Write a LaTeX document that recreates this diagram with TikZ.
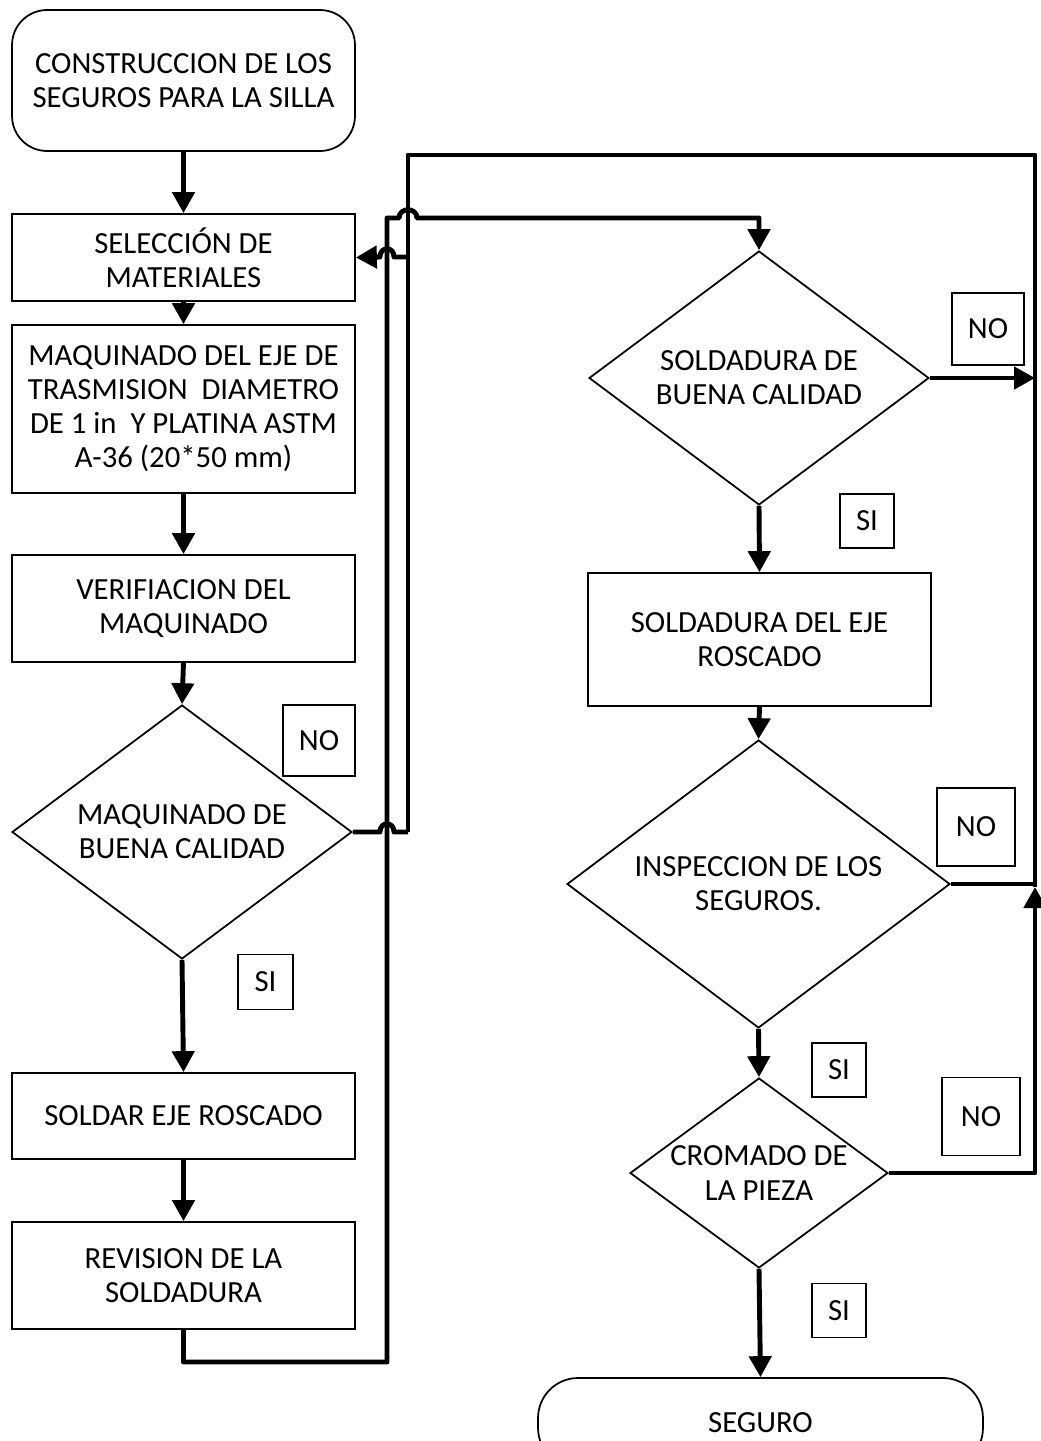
\documentclass[tikz,border=0pt]{standalone}
\usepackage{fontspec}
\setmainfont{Carlito}
\usetikzlibrary{shapes.geometric,arrows.meta}

\begin{document}
\begin{tikzpicture}[x=0.02cm,y=-0.02cm,
    font=\fontsize{17.5}{19.4}\selectfont,
    caja/.style={draw=black,line width=1pt,align=center,inner sep=0pt,minimum width=6.86cm},
    rombo/.style={shape=diamond,draw=black,line width=1pt,align=center,inner sep=0pt,aspect=1.34},
    etiq/.style={draw=black,line width=1pt,inner sep=0pt},
    linea/.style={line width=2.8pt,line join=round},
    flecha/.style={linea,-{Triangle[length=0.42cm,width=0.44cm]}}]
    \useasboundingbox (0,0) rectangle (1041,1441);

    % columna izquierda
    \node[caja,rounded corners=0.7cm,minimum height=2.82cm] (inicio) at (183.5,80.5) {CONSTRUCCION DE LOS\\SEGUROS PARA LA SILLA};
    \node[caja,minimum height=1.74cm] (seleccion) at (183.5,257.5) {SELECCIÓN DE\\MATERIALES};
    \node[caja,minimum height=3.36cm] (maquinado) at (183.5,409) {MAQUINADO DEL EJE DE\\TRASMISION\ \ DIAMETRO\\DE 1 in\ \ Y PLATINA ASTM\\A-36 (20*50 mm)};
    \node[caja,minimum height=2.14cm] (verificacion) at (183.5,608.5) {VERIFIACION DEL\\MAQUINADO};
    \node[rombo,minimum width=6.8cm,minimum height=5.08cm] (maqcal) at (182,832) {MAQUINADO DE\\BUENA CALIDAD};
    \node[caja,minimum height=1.72cm] (soldar) at (183.5,1116) {SOLDAR EJE ROSCADO};
    \node[caja,minimum height=2.14cm] (revision) at (183.5,1275.5) {REVISION DE LA\\SOLDADURA};

    % columna derecha
    \node[rombo,minimum width=6.8cm,minimum height=5.08cm] (soldcal) at (759,378) {SOLDADURA DE\\BUENA CALIDAD};
    \node[caja,minimum height=2.66cm] (soldeje) at (759.5,639.5) {SOLDADURA DEL EJE\\ROSCADO};
    \node[rombo,minimum width=7.66cm,minimum height=5.76cm] (inspeccion) at (758.5,884) {INSPECCION DE LOS\\SEGUROS.};
    \node[rombo,minimum width=5.16cm,minimum height=3.8cm] (cromado) at (759,1173) {CROMADO DE\\LA PIEZA};
    \node[caja,rounded corners=0.8cm,minimum width=8.9cm,minimum height=1.8cm] (seguro) at (760.5,1423) {SEGURO};

    % etiquetas SI / NO
    \node[etiq,minimum width=1.44cm,minimum height=1.42cm] (no1) at (319,740.5) {NO};
    \node[etiq,minimum size=1.1cm] (si1) at (265.5,982) {SI};
    \node[etiq,minimum size=1.44cm] (no2) at (988,329) {NO};
    \node[etiq,minimum size=1.08cm] (si2) at (867,521) {SI};
    \node[etiq,minimum size=1.56cm] (no3) at (976,827) {NO};
    \node[etiq,minimum size=1.08cm] (si3) at (839,1070) {SI};
    \node[etiq,minimum size=1.56cm] (no4) at (981,1116.5) {NO};
    \node[etiq,minimum size=1.08cm] (si4) at (839,1310.5) {SI};

    \coordinate (esqder) at (1035,155);
    \coordinate (esqizq) at (408,155);
    \coordinate (subida) at (387,1362);

    % flujo principal
    \draw[flecha] (inicio.south) -- (seleccion.north);
    \draw[flecha] (seleccion.south) -- (maquinado.north);
    \draw[flecha] (maquinado.south) -- (verificacion.north);
    \draw[flecha] (verificacion.south) -- (maqcal.north);
    \draw[flecha] (maqcal.south) -- (soldar.north);
    \draw[flecha] (soldar.south) -- (revision.north);
    \draw[flecha] (revision.south) |- (subida) -- (387,218) -- (399,218)
        .. controls (399,207) and (417,207) .. (417,218) -| (soldcal.north);
    \draw[flecha] (soldcal.south) -- (soldeje.north);
    \draw[flecha] (soldeje.south) -- (inspeccion.north);
    \draw[flecha] (inspeccion.south) -- (cromado.north);
    \draw[flecha] (cromado.south) -- (seguro.north);

    % retornos por NO
    \draw[flecha] (soldcal.east) -- (soldcal.east -| esqder);
    \draw[linea] (inspeccion.east) -- (inspeccion.east -| esqder);
    \draw[flecha] (cromado.east) -- (cromado.east -| esqder) -- (1035,887);
    \draw[linea] (1035,887) -- (esqder) -- (esqizq) -- (408,832);
    \draw[flecha] (408,257) -- (394,257) .. controls (394,246) and (380,246) .. (380,257) -- (seleccion.east);
    \draw[linea] (maqcal.east) -- (380,832) .. controls (380,821) and (394,821) .. (394,832) -- (408,832);
\end{tikzpicture}
\end{document}
